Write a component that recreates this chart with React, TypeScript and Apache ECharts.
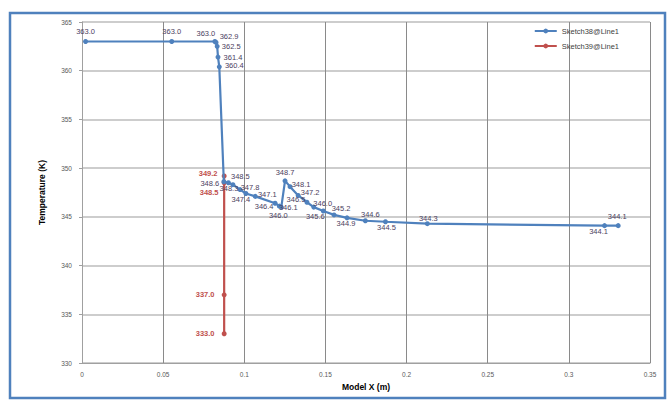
import React, { useEffect, useRef } from "react";
import * as echarts from "echarts";

const blueX = [0.0022, 0.0553, 0.0819, 0.0826, 0.0833, 0.0838, 0.0846, 0.0874, 0.0902, 0.093, 0.0974, 0.101, 0.1068, 0.119, 0.1216, 0.1228, 0.1251, 0.1282, 0.1332, 0.1386, 0.1428, 0.1487, 0.1553, 0.1633, 0.1746, 0.1870, 0.2128, 0.3220, 0.3304];
const blueT = [363.0, 363.0, 363.0, 362.9, 362.5, 361.4, 360.4, 348.6, 348.5, 348.3, 347.8, 347.4, 347.1, 346.4, 346.1, 346.0, 348.7, 348.1, 347.2, 346.5, 346.0, 345.6, 345.2, 344.9, 344.6, 344.5, 344.3, 344.1, 344.1];
// label offsets from the marker centre, in pixels
const blueLabelOffset: [number, number][] = [
  [0, -10], [0, -10], [-9, -8], [13, -6], [14, 0], [15, 0], [15, -1],
  [-14, 2], [12, -6], [-4, 4], [10, -2], [-5, 6], [12, -2], [-11, 3],
  [9, 1], [-3, 8], [0, -8], [11, -2], [12, -3], [-11, -3], [9, -4],
  [-8, 5], [7, -6], [-1, 6], [5, -6], [1, 6], [1, -5], [-6, 6], [-1, -9],
];

const redX = [0.0876, 0.0876, 0.0876, 0.0876];
const redT = [349.2, 348.5, 337.0, 333.0];
const redLabelOffset: [number, number][] = [[-16, -2], [-15, 10], [-19, 0], [-19, 0]];

const xTicks = { min: 0, max: 0.35, interval: 0.05 };
const yTicks = { min: 330, max: 365, interval: 5 };

function buildData(xs: number[], ts: number[], offs: [number, number][]) {
  return xs.map((x, i) => ({
    value: [x, ts[i]],
    label: { position: "inside", offset: offs[i] },
  }));
}

export default function App() {
  const ref = useRef<HTMLDivElement>(null);
  useEffect(() => {
    const chart = echarts.init(ref.current!, null, { renderer: "svg" });
    const font = "Liberation Sans";
    chart.setOption({
      animation: false,
      backgroundColor: "#ffffff",
      textStyle: { fontFamily: font },
      graphic: [
        {
          type: "rect",
          shape: { x: 10, y: 13, width: 655, height: 385 },
          style: { fill: "none", stroke: "#4F81BD", lineWidth: 2.5 },
          silent: true,
        },
      ],
      legend: {
        orient: "vertical",
        right: 44,
        top: 22,
        itemWidth: 22,
        itemHeight: 6,
        itemGap: 7,
        textStyle: { fontSize: 7.5, color: "#404040", fontFamily: font },
        data: ["Sketch38@Line1", "Sketch39@Line1"],
      },
      grid: { left: 82, right: 18, top: 22, bottom: 43 },
      xAxis: {
        type: "value",
        min: xTicks.min,
        max: xTicks.max,
        interval: xTicks.interval,
        name: "Model X (m)",
        nameLocation: "middle",
        nameGap: 16,
        nameTextStyle: { fontSize: 8.5, fontWeight: "bold", color: "#000" },
        axisLine: { lineStyle: { color: "#a0a0a0" } },
        axisTick: { show: false },
        axisLabel: { fontSize: 6.5, color: "#595959", margin: 8 },
        splitLine: { lineStyle: { color: "#8a8a8a", width: 1 } },
      },
      yAxis: {
        type: "value",
        min: yTicks.min,
        max: yTicks.max,
        interval: yTicks.interval,
        name: "Temperature (K)",
        nameLocation: "middle",
        nameGap: 36,
        nameTextStyle: { fontSize: 8.5, fontWeight: "bold", color: "#000" },
        axisLine: { show: true, lineStyle: { color: "#a0a0a0" } },
        axisTick: { show: true, length: 3, lineStyle: { color: "#a0a0a0" } },
        axisLabel: { fontSize: 6.5, color: "#595959", margin: 10 },
        splitLine: { lineStyle: { color: "#bdbdbd", width: 1.5 } },
      },
      series: [
        {
          name: "Sketch38@Line1",
          type: "line",
          data: buildData(blueX, blueT, blueLabelOffset),
          color: "#4F81BD",
          lineStyle: { width: 2.2, color: "#4F81BD" },
          symbol: "circle",
          symbolSize: 5,
          itemStyle: { color: "#4F81BD" },
          label: {
            show: true,
            fontSize: 7.5,
            color: "#4B3E5E",
            formatter: (p: any) => p.value[1].toFixed(1),
          },
          z: 3,
        },
        {
          name: "Sketch39@Line1",
          type: "line",
          data: buildData(redX, redT, redLabelOffset),
          color: "#C0504D",
          lineStyle: { width: 2.2, color: "#C0504D" },
          symbol: "circle",
          symbolSize: 5,
          itemStyle: { color: "#C0504D" },
          label: {
            show: true,
            fontSize: 7.5,
            fontWeight: "bold",
            color: "#C0504D",
            formatter: (p: any) => p.value[1].toFixed(1),
          },
          z: 2,
        },
      ],
    });
    return () => chart.dispose();
  }, []);
  return (
    <div
      ref={ref}
      style={{ position: "absolute", left: 0, top: 0, width: 668, height: 406 }}
    />
  );
}
